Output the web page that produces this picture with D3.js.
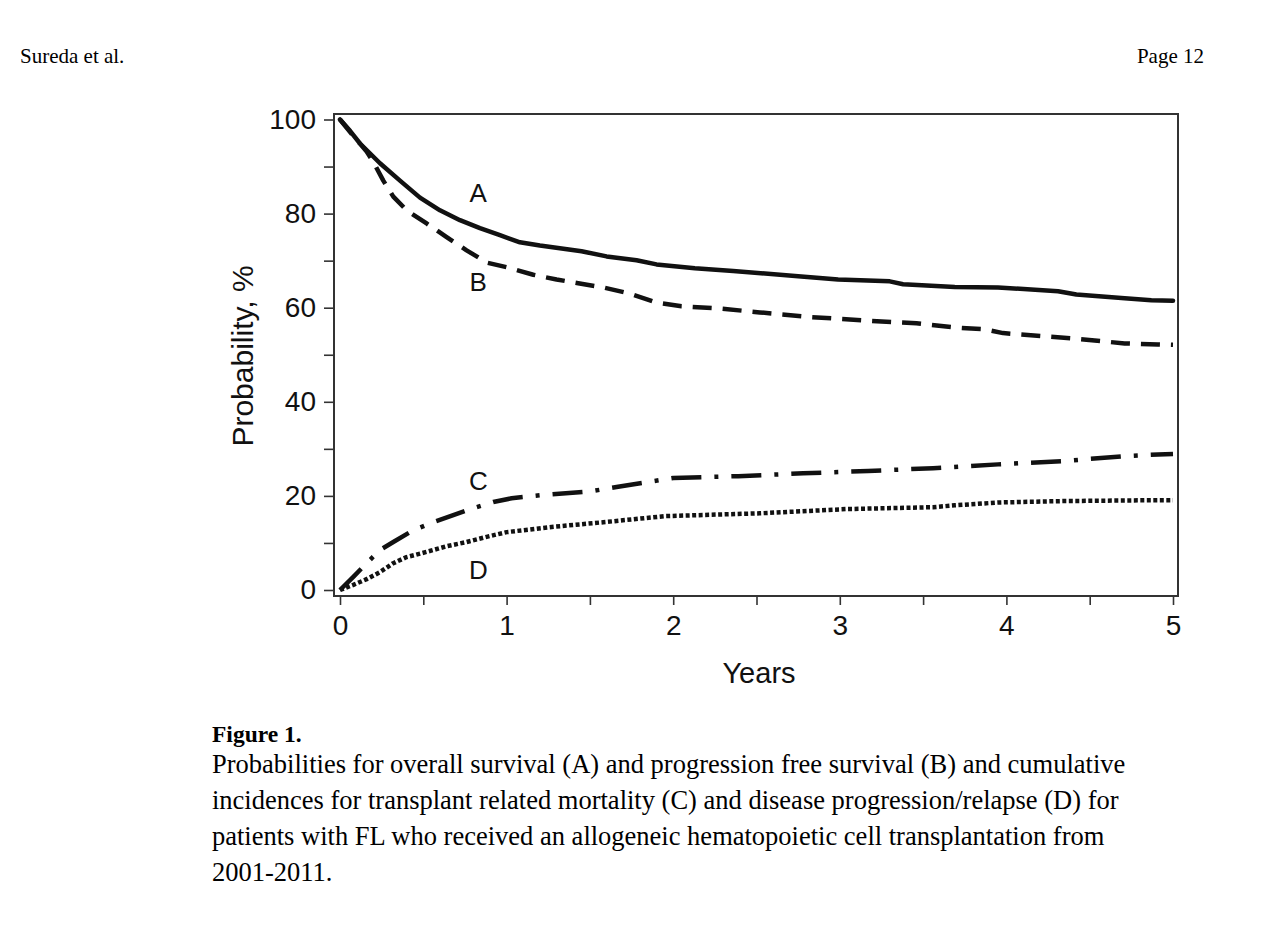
<!DOCTYPE html>
<html>
<head>
<meta charset="utf-8">
<script src="https://cdn.jsdelivr.net/npm/d3@7"></script>
<style>
  body { margin: 0; background: #fff; }
  svg { display: block; }
</style>
</head>
<body>
<svg id="chart" width="1265" height="945"></svg>
<script>
// Years after transplant / probability (%)
const seriesA_t = [0, 0.06, 0.12, 0.24, 0.36, 0.48, 0.6, 0.72, 0.84, 0.96, 1.08, 1.2, 1.45, 1.6, 1.78, 1.9, 2.13, 2.36, 2.75, 2.99, 3.3, 3.38, 3.69, 3.95, 4.31, 4.42, 4.71, 4.87, 5.0];
const seriesA_v = [100, 97.6, 94.9, 90.7, 87.0, 83.4, 80.7, 78.6, 76.9, 75.4, 73.9, 73.2, 72.0, 70.9, 70.1, 69.2, 68.4, 67.8, 66.7, 66.0, 65.6, 65.0, 64.4, 64.3, 63.5, 62.8, 62.0, 61.6, 61.5];

const seriesB_t = [0, 0.08, 0.16, 0.2, 0.26, 0.32, 0.4, 0.52, 0.64, 0.76, 0.88, 1.0, 1.16, 1.3, 1.43, 1.58, 1.74, 1.9, 2.05, 2.26, 2.52, 2.83, 3.14, 3.46, 3.69, 3.87, 3.98, 4.24, 4.39, 4.71, 4.91, 5.0];
const seriesB_v = [100, 96.5, 93.2, 91.0, 87.0, 83.6, 80.7, 77.9, 75.0, 72.2, 69.6, 68.6, 67.0, 66.0, 65.2, 64.3, 63.0, 61.1, 60.3, 59.9, 59.0, 58.0, 57.3, 56.7, 55.8, 55.4, 54.6, 53.9, 53.5, 52.4, 52.2, 52.1];

const seriesC_t = [0, 0.08, 0.16, 0.24, 0.32, 0.44, 0.56, 0.68, 0.8, 0.92, 1.03, 1.22, 1.51, 1.66, 2.0, 2.39, 2.78, 3.17, 3.56, 3.95, 4.34, 4.73, 4.91, 5.0];
const seriesC_v = [0, 2.8, 5.7, 8.5, 10.2, 12.7, 14.4, 15.9, 17.4, 18.7, 19.5, 20.2, 21.0, 21.9, 23.8, 24.2, 24.8, 25.3, 25.9, 26.7, 27.4, 28.5, 28.8, 28.9];

const seriesD_t = [0, 0.08, 0.16, 0.24, 0.32, 0.4, 0.52, 0.64, 0.76, 0.88, 1.0, 1.27, 1.58, 1.95, 2.52, 3.04, 3.56, 3.69, 3.95, 4.34, 4.94, 5.0];
const seriesD_v = [0, 1.1, 2.3, 3.8, 5.7, 7.0, 8.1, 9.3, 10.2, 11.3, 12.3, 13.4, 14.4, 15.7, 16.3, 17.2, 17.6, 18.0, 18.6, 18.9, 19.1, 19.1];

const curveLabels = ["A", "B", "C", "D"];
const labelPos_t = [0.83, 0.83, 0.83, 0.83];
const labelPos_v = [84.3, 65.4, 23.1, 4.3];

const xTicksMajor = [0, 1, 2, 3, 4, 5];
const xTicksMinor = [0.5, 1.5, 2.5, 3.5, 4.5];
const yTicksMajor = [0, 20, 40, 60, 80, 100];
const yTicksMinor = [10, 30, 50, 70, 90];

const captionLines = [
  "Probabilities for overall survival (A) and progression free survival (B) and cumulative",
  "incidences for transplant related mortality (C) and disease progression/relapse (D) for",
  "patients with FL who received an allogeneic hematopoietic cell transplantation from",
  "2001-2011."
];

const svg = d3.select("#chart");
const sans = "Arial, 'Liberation Sans', sans-serif";
const serif = "'Times New Roman', 'Liberation Serif', serif";
const ink = "#111";

// header
svg.append("text").attr("x", 20).attr("y", 63)
  .style("font-family", serif).style("font-size", "21px").text("Sureda et al.");
svg.append("text").attr("x", 1204).attr("y", 63).attr("text-anchor", "end")
  .style("font-family", serif).style("font-size", "21px").text("Page 12");

// scales
const x = d3.scaleLinear().domain([0, 5]).range([340, 1173]);
const y = d3.scaleLinear().domain([0, 100]).range([590, 119.5]);

const frame = { left: 334, right: 1178, top: 114, bottom: 596 };

// axes
const yAxis = svg.append("g")
  .attr("transform", `translate(${frame.left},0)`)
  .call(d3.axisLeft(y).tickValues(yTicksMajor.concat(yTicksMinor))
    .tickSize(10).tickPadding(8)
    .tickFormat(d => yTicksMajor.includes(d) ? d : ""));
const xAxis = svg.append("g")
  .attr("transform", `translate(0,${frame.bottom})`)
  .call(d3.axisBottom(x).tickValues(xTicksMajor.concat(xTicksMinor))
    .tickSize(9).tickPadding(10)
    .tickFormat(d => xTicksMajor.includes(d) ? d : ""));
[xAxis, yAxis].forEach(a => {
  a.select(".domain").remove();
  a.selectAll(".tick line").attr("stroke", "#333").attr("stroke-width", 1.6);
  a.selectAll(".tick text").attr("fill", ink)
    .style("font-family", sans).style("font-size", "28px");
});

// frame
svg.append("rect")
  .attr("x", frame.left).attr("y", frame.top)
  .attr("width", frame.right - frame.left).attr("height", frame.bottom - frame.top)
  .attr("fill", "none").attr("stroke", "#333").attr("stroke-width", 2);

// axis titles
svg.append("text").attr("x", 759).attr("y", 683).attr("text-anchor", "middle")
  .style("font-family", sans).style("font-size", "29px").attr("fill", ink).text("Years");
svg.append("text")
  .attr("transform", "translate(253,356) rotate(-90)")
  .attr("text-anchor", "middle")
  .style("font-family", sans).style("font-size", "30px").attr("fill", ink)
  .text("Probability, %");

// curves
const line = d3.line().x(d => x(d[0])).y(d => y(d[1])).curve(d3.curveLinear);
const zip = (ts, vs) => ts.map((t, i) => [t, vs[i]]);
const curves = [
  { data: zip(seriesA_t, seriesA_v), dash: null, cap: "round" },
  { data: zip(seriesB_t, seriesB_v), dash: "19,11", cap: "butt" },
  { data: zip(seriesC_t, seriesC_v), dash: "30,13,4,13", cap: "butt" },
  { data: zip(seriesD_t, seriesD_v), dash: "4,2.5", cap: "butt" }
];
curves.forEach(c => {
  svg.append("path")
    .datum(c.data)
    .attr("d", line)
    .attr("fill", "none")
    .attr("stroke", ink)
    .attr("stroke-width", 4.5)
    .attr("stroke-linejoin", "round")
    .attr("stroke-linecap", c.cap)
    .attr("stroke-dasharray", c.dash);
});

// curve labels
curveLabels.forEach((lab, i) => {
  svg.append("text")
    .attr("x", x(labelPos_t[i])).attr("y", y(labelPos_v[i]))
    .attr("dy", "0.35em")
    .attr("text-anchor", "middle")
    .style("font-family", sans).style("font-size", "26px").attr("fill", ink)
    .text(lab);
});

// caption
svg.append("text").attr("x", 212).attr("y", 742)
  .style("font-family", serif).style("font-size", "23.5px").style("font-weight", "bold")
  .text("Figure 1.");
captionLines.forEach((ln, i) => {
  svg.append("text").attr("x", 212).attr("y", 773 + i * 36)
    .style("font-family", serif).style("font-size", "26.5px")
    .text(ln);
});
</script>
</body>
</html>
